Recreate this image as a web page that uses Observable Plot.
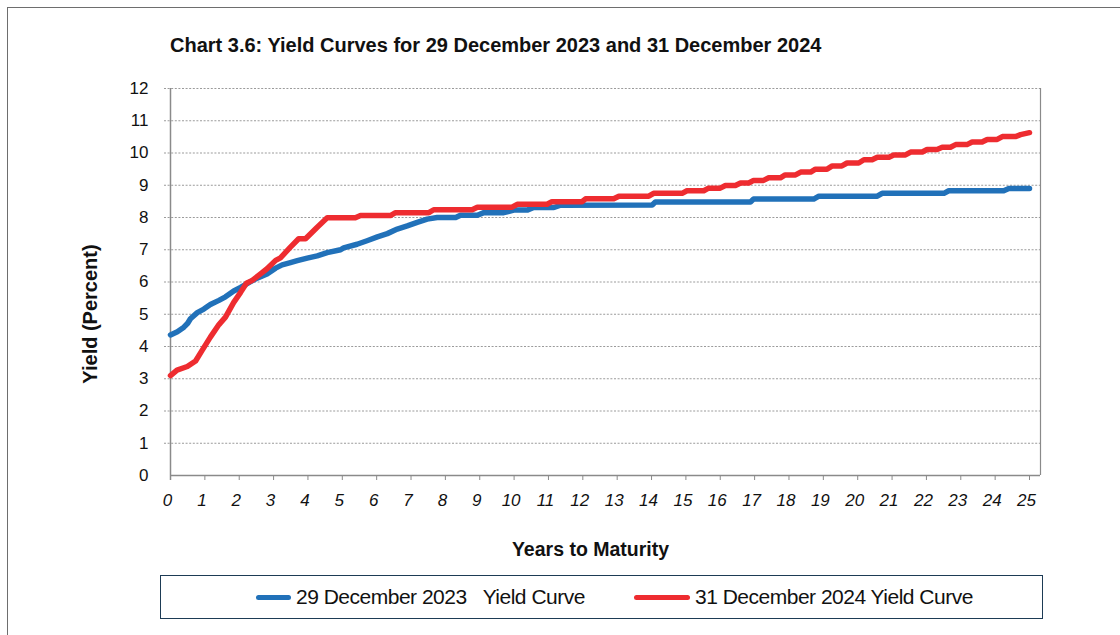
<!DOCTYPE html>
<html>
<head>
<meta charset="utf-8">
<script src="https://cdn.jsdelivr.net/npm/d3@7"></script>
<script src="https://cdn.jsdelivr.net/npm/@observablehq/plot@0.6"></script>
<style>
  body { margin: 0; background: #fff; font-family: "Liberation Sans", Arial, Helvetica, sans-serif; color: #111; }
  #page { position: relative; width: 1120px; height: 635px; overflow: hidden; background: #fff; }
  #border { position: absolute; left: 7px; top: 7px; width: 1140px; height: 660px; border: 1px solid #6e6e6e; }
  #title { position: absolute; left: 170px; top: 34px; font-weight: bold; font-size: 20px; white-space: nowrap; }
  #chart { position: absolute; left: 0; top: 70px; }
  #ylabel { position: absolute; left: 90px; top: 314px; transform: translate(-50%, -50%) rotate(-90deg);
            font-weight: bold; font-size: 20px; white-space: nowrap; }
  #legend { position: absolute; left: 160px; top: 575px; width: 881px; height: 42px;
            border: 1.5px solid #1d3b55; }
  .item { position: absolute; top: 0; height: 42px; display: flex; align-items: center; white-space: pre;
          font-size: 21px; letter-spacing: -0.5px; color: #111; }
  .swatch { display: inline-block; height: 5px; border-radius: 3px; margin-right: 5px; }
  .gap { display: inline-block; width: 16px; }
</style>
</head>
<body>
<div id="page">
  <div id="border"></div>
  <div id="title">Chart 3.6: Yield Curves for 29 December 2023 and 31 December 2024</div>
  <div id="chart"></div>
  <div id="ylabel">Yield (Percent)</div>
  <div id="legend"></div>
</div>
<script>
// Series names and colours
const seriesNames = ["29 December 2023  Yield Curve", "31 December 2024 Yield Curve"];
const seriesColors = ["#2171b9", "#ee2c30"];

// Axis ticks
const xTicks = d3.range(0, 26);
const yTicks = d3.range(0, 13);
const xMax = 25.32;

// 29 December 2023 curve: years to maturity and yield (%)
const years2023 = [0, 0.2, 0.39, 0.5, 0.58, 0.78, 0.97, 1.16, 1.41, 1.6, 1.84, 2.04, 2.28, 2.52, 2.81, 3.06, 3.25,
  3.49, 3.69, 3.98, 4.27, 4.56, 4.95, 5.04, 5.43, 5.72, 6.02, 6.31, 6.6, 6.89, 7.18, 7.47, 7.76, 8.3, 8.44, 8.93,
  9.12, 9.7, 9.99, 10.38, 10.57, 11.16, 11.35, 14.02, 14.11, 16.88, 16.97, 18.72, 18.87, 20.57, 20.71, 22.51,
  22.65, 24.25, 24.4, 25.0];
const yield2023 = [4.36, 4.46, 4.6, 4.72, 4.86, 5.05, 5.16, 5.3, 5.43, 5.54, 5.72, 5.83, 5.98, 6.12, 6.25, 6.43, 6.53,
  6.6, 6.66, 6.74, 6.81, 6.91, 7.0, 7.06, 7.17, 7.28, 7.4, 7.5, 7.64, 7.74, 7.85, 7.95, 8.0, 8.0, 8.07, 8.07,
  8.15, 8.15, 8.23, 8.23, 8.31, 8.31, 8.38, 8.39, 8.48, 8.48, 8.57, 8.57, 8.66, 8.66, 8.75, 8.75,
  8.83, 8.83, 8.9, 8.9];

// 31 December 2024 curve: years to maturity and yield (%)
const years2024 = [0, 0.19, 0.49, 0.73, 0.92, 1.16, 1.41, 1.6, 1.84, 2.04, 2.21, 2.38, 2.62, 2.81, 3.06, 3.2, 3.49,
  3.73, 3.93, 4.27, 4.56, 5.38, 5.53, 6.4, 6.55, 7.52, 7.66, 8.78, 8.93, 9.94, 10.09, 10.96, 11.1, 11.98, 12.08,
  12.9, 13.05, 13.92, 14.06, 14.89, 15.03, 15.52, 15.66, 16.0, 16.15, 16.44, 16.59, 16.83, 16.97, 17.26, 17.41,
  17.75, 17.89, 18.19, 18.34, 18.63, 18.77, 19.11, 19.26, 19.54, 19.69, 20.03, 20.18, 20.42, 20.57, 20.91, 21.05,
  21.39, 21.54, 21.88, 22.02, 22.31, 22.46, 22.7, 22.85, 23.18, 23.33, 23.62, 23.77, 24.06, 24.21, 24.59, 24.74, 25.0];
const yield2024 = [3.1, 3.27, 3.38, 3.55, 3.88, 4.29, 4.68, 4.91, 5.37, 5.68, 5.96, 6.05, 6.25, 6.41, 6.67, 6.75, 7.08,
  7.34, 7.34, 7.7, 7.99, 7.99, 8.06, 8.06, 8.15, 8.15, 8.24, 8.24, 8.32, 8.32, 8.41, 8.41, 8.49, 8.49, 8.58,
  8.58, 8.66, 8.66, 8.75, 8.75, 8.83, 8.83, 8.91, 8.91, 8.99, 8.99, 9.07, 9.07, 9.15, 9.15, 9.23,
  9.23, 9.32, 9.32, 9.41, 9.41, 9.5, 9.5, 9.6, 9.6, 9.69, 9.69, 9.79, 9.79, 9.87, 9.87, 9.94,
  9.94, 10.03, 10.03, 10.11, 10.11, 10.18, 10.18, 10.26, 10.26, 10.34, 10.34, 10.42, 10.42, 10.51, 10.51, 10.57, 10.63];

const toRows = (xs, ys) => xs.map((t, i) => ({t, v: ys[i]}));
const rows2023 = toRows(years2023, yield2023);
const rows2024 = toRows(years2024, yield2024);

const axisGrey = "#8a8a8a";
const font = "Liberation Sans, Arial, Helvetica, sans-serif";

const chart = Plot.plot({
  width: 1120,
  height: 500,
  marginLeft: 170,
  marginRight: 80,
  marginTop: 18,
  marginBottom: 95,
  x: {domain: [0, xMax]},
  y: {domain: [0, 12]},
  style: {fontFamily: font, background: "transparent", color: "#111"},
  marks: [
    // dotted horizontal gridlines, with a short stub left of the axis
    Plot.ruleY(yTicks.slice(1), {stroke: "#9b9b9b", strokeWidth: 1, strokeDasharray: "2,1.6", insetLeft: -6}),
    // solid axes and the right-hand border
    Plot.ruleY([0], {stroke: axisGrey, strokeWidth: 1.5}),
    Plot.ruleX([0], {stroke: axisGrey, strokeWidth: 1.5, insetBottom: -5}),
    Plot.ruleX([xMax], {stroke: axisGrey, strokeWidth: 1.2}),
    // x ticks and labels
    Plot.axisX(xTicks, {tickSize: 5, tickFormat: () => "", stroke: axisGrey, label: null}),
    Plot.axisX(xTicks, {tickSize: 0, tickPadding: 18, dx: -3, fontSize: 17, fontStyle: "italic", label: null}),
    // y labels
    Plot.axisY(yTicks, {tickSize: 0, tickPadding: 22, fontSize: 17, label: null}),
    // x-axis title
    Plot.text(["Years to Maturity"], {frameAnchor: "bottom", dx: -15, dy: 74, fontSize: 19.5, fontWeight: "bold", lineAnchor: "middle"}),
    // yield curves
    Plot.line(rows2023, {x: "t", y: "v", stroke: seriesColors[0], strokeWidth: 5.5,
      strokeLinecap: "round", strokeLinejoin: "round"}),
    Plot.line(rows2024, {x: "t", y: "v", stroke: seriesColors[1], strokeWidth: 5.5,
      strokeLinecap: "round", strokeLinejoin: "round"})
  ]
});
document.getElementById("chart").append(chart);

// legend: a line swatch followed by the series name
const legend = document.getElementById("legend");
const legendX = [95, 473];
const swatchW = [35, 56];
seriesNames.forEach((name, i) => {
  const item = document.createElement("div");
  item.className = "item";
  item.style.left = legendX[i] + "px";
  const sw = document.createElement("span");
  sw.className = "swatch";
  sw.style.width = swatchW[i] + "px";
  sw.style.background = seriesColors[i];
  item.append(sw);
  // a double space in a name marks a wider gap
  name.split("  ").forEach((part, j) => {
    if (j > 0) {
      const gap = document.createElement("span");
      gap.className = "gap";
      item.append(gap);
    }
    const label = document.createElement("span");
    label.textContent = part;
    item.append(label);
  });
  legend.append(item);
});
</script>
</body>
</html>
